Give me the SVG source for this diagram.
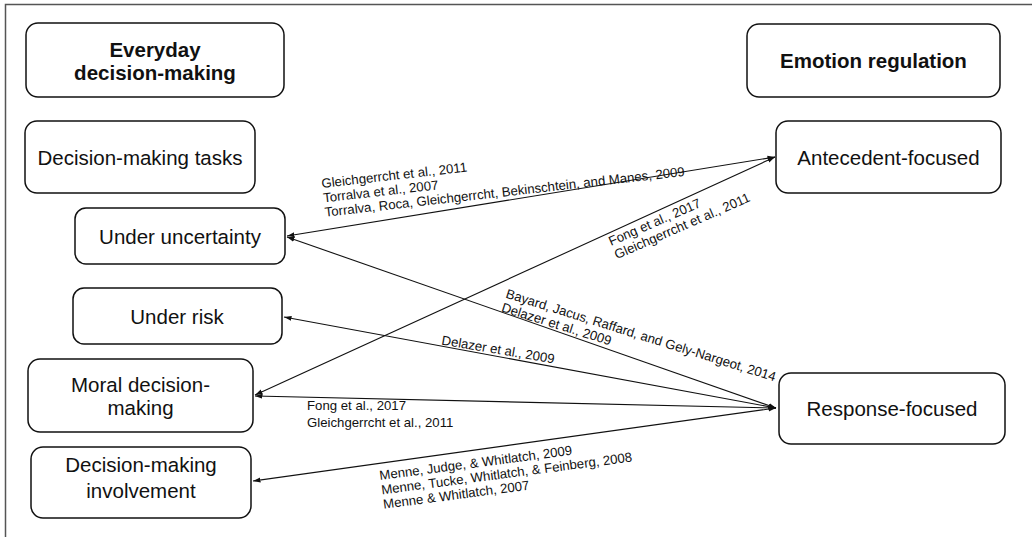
<svg xmlns="http://www.w3.org/2000/svg" width="1032" height="537" viewBox="0 0 1032 537">
<style>
.box{fill:#fff;stroke:#111;stroke-width:1.5}
.t{font-family:"Liberation Sans",Arial,sans-serif;font-size:20.5px;fill:#111;text-anchor:middle}
.b{font-weight:bold}
.lab{font-family:"Liberation Sans",Arial,sans-serif;font-size:13.2px;fill:#111}
.c{fill:none;stroke:#111;stroke-width:1.1;marker-start:url(#ah);marker-end:url(#ah)}
</style>
<defs>
<marker id="ah" markerUnits="userSpaceOnUse" markerWidth="8" markerHeight="6" refX="7.5" refY="3" orient="auto-start-reverse">
<path d="M0,0.5 L7.5,3 L0,5.5 z" fill="#111"/>
</marker>
</defs>
<rect width="1032" height="537" fill="#fff"/>
<path d="M5.5,537 V4.5 H1032" fill="none" stroke="#555" stroke-width="1.5"/>

<g id="connectors">
<line class="c" x1="287" y1="236" x2="775" y2="157"/>
<line class="c" x1="255" y1="395" x2="775" y2="157"/>
<line class="c" x1="287" y1="237" x2="776" y2="408"/>
<line class="c" x1="284" y1="317" x2="776" y2="408"/>
<line class="c" x1="255" y1="396" x2="776" y2="408"/>
<line class="c" x1="253" y1="481" x2="776" y2="408"/>
</g>

<g id="labels">
<g transform="translate(322,188) rotate(-6.5)">
<text class="lab" x="0" y="0">Gleichgerrcht et al., 2011</text>
<text class="lab" x="0" y="14.5">Torralva et al., 2007</text>
<text class="lab" x="0" y="29">Torralva, Roca, Gleichgerrcht, Bekinschtein, and Manes, 2009</text>
</g>
<g transform="translate(611,246) rotate(-23.5)">
<text class="lab" x="0" y="0">Fong et al., 2017</text>
<text class="lab" x="0" y="14.5">Gleichgerrcht et al., 2011</text>
</g>
<g transform="translate(505,297.5) rotate(17.3)">
<text class="lab" x="0" y="0">Bayard, Jacus, Raffard, and Gely-Nargeot, 2014</text>
<text class="lab" x="0" y="14.5">Delazer et al., 2009</text>
</g>
<g transform="translate(441,344.5) rotate(9.5)">
<text class="lab" x="0" y="0">Delazer et al., 2009</text>
</g>
<g>
<text class="lab" x="307" y="410">Fong et al., 2017</text>
<text class="lab" x="307" y="427">Gleichgerrcht et al., 2011</text>
</g>
<g transform="translate(380,480) rotate(-7.5)">
<text class="lab" x="0" y="0">Menne, Judge, &amp; Whitlatch, 2009</text>
<text class="lab" x="0" y="14.5">Menne, Tucke, Whitlatch, &amp; Feinberg, 2008</text>
<text class="lab" x="0" y="29">Menne &amp; Whitlatch, 2007</text>
</g>
</g>

<g id="everyday">
<rect class="box" x="26" y="23" width="258" height="74" rx="12"/>
<text class="t b" x="155" y="57">Everyday</text>
<text class="t b" x="155" y="80">decision-making</text>
</g>
<g id="tasks">
<rect class="box" x="25" y="121" width="230" height="72" rx="12"/>
<text class="t" x="140" y="165">Decision-making tasks</text>
</g>
<g id="uncertainty">
<rect class="box" x="75" y="208" width="210" height="56" rx="11"/>
<text class="t" x="180" y="244">Under uncertainty</text>
</g>
<g id="risk">
<rect class="box" x="73" y="288" width="209" height="56" rx="11"/>
<text class="t" x="177" y="324">Under risk</text>
</g>
<g id="moral">
<rect class="box" x="28" y="359" width="225" height="73" rx="12"/>
<text class="t" x="140.5" y="392">Moral decision-</text>
<text class="t" x="140.5" y="415">making</text>
</g>
<g id="involvement">
<rect class="box" x="31" y="447" width="220" height="71" rx="12"/>
<text class="t" x="141" y="472">Decision-making</text>
<text class="t" x="141" y="498">involvement</text>
</g>
<g id="emotion">
<rect class="box" x="747" y="24" width="253" height="73" rx="12"/>
<text class="t b" x="873.5" y="68">Emotion regulation</text>
</g>
<g id="antecedent">
<rect class="box" x="776" y="121" width="225" height="72" rx="12"/>
<text class="t" x="888.5" y="165">Antecedent-focused</text>
</g>
<g id="response">
<rect class="box" x="779" y="373" width="226" height="71" rx="12"/>
<text class="t" x="892" y="416">Response-focused</text>
</g>
</svg>
